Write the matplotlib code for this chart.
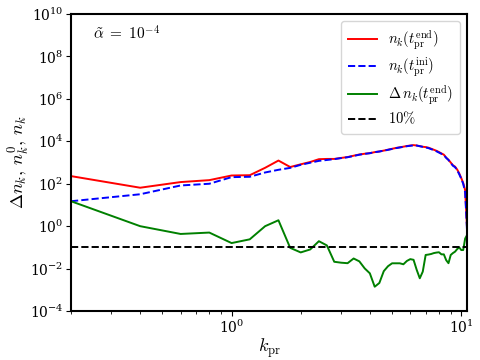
import matplotlib
matplotlib.use("Agg")
import matplotlib.pyplot as plt
import numpy as np

plt.rcParams['mathtext.fontset'] = 'cm'
plt.rcParams['font.family'] = 'serif'
plt.rcParams['font.serif'] = ['DejaVu Serif']

# momentum grid k_pr
k = [0.2, 0.4, 0.6, 0.8, 1.0, 1.2, 1.4, 1.6, 1.8, 2.0,
     2.2, 2.4, 2.6, 2.8, 3.0, 3.2, 3.4, 3.6, 3.8, 4.0,
     4.2, 4.4, 4.6, 4.8, 5.0, 5.2, 5.4, 5.6, 5.8, 6.0,
     6.2, 6.4, 6.6, 6.8, 7.0, 7.2, 7.4, 7.6, 7.8, 8.0,
     8.2, 8.4, 8.6, 8.8, 9.0, 9.2, 9.4, 9.6, 9.8, 10.0,
     10.2, 10.4, 10.6]

# n_k at t_pr^ini
n_ini = [15, 32, 83, 100, 205, 213, 340, 455, 560, 780,
         980, 1200, 1320, 1450, 1620, 1780, 2040, 2340, 2570, 2750,
         3090, 3310, 3630, 3980, 4370, 4790, 5130, 5500, 5890, 6170,
         6460, 6310, 5890, 5500, 5130, 4790, 4270, 3800, 3390, 2950,
         2570, 2240, 1660, 1320, 955, 708, 603, 437, 282, 174,
         100, 40, 0.6]

# n_k at t_pr^end
n_end = [229, 65, 120, 148, 245, 253, 565, 1240, 615, 825,
         1060, 1440, 1480, 1480, 1650, 1810, 2100, 2390, 2600, 2770,
         3095, 3320, 3660, 4030, 4450, 4870, 5220, 5590, 6020, 6340,
         6630, 6360, 5910, 5540, 5350, 5010, 4480, 4000, 3580, 3120,
         2690, 2350, 1700, 1340, 1000, 745, 640, 470, 310, 187,
         108, 50, 0.85]

# relative change Delta n_k
dn = [15, 1.0, 0.43, 0.5, 0.16, 0.24, 1.0, 1.9, 0.095, 0.058,
      0.080, 0.196, 0.124, 0.021, 0.019, 0.018, 0.030, 0.022, 0.0102, 0.006,
      0.0014, 0.0021, 0.0076, 0.013, 0.0178, 0.0178, 0.0178, 0.016, 0.023, 0.028,
      0.026, 0.0087, 0.0035, 0.0072, 0.044, 0.046, 0.049, 0.054, 0.057, 0.059,
      0.047, 0.047, 0.025, 0.018, 0.044, 0.054, 0.063, 0.083, 0.10, 0.075,
      0.075, 0.26, 0.38]

threshold = 0.1

fig = plt.figure(figsize=(4.8, 3.6), dpi=100)
ax = fig.add_axes([0.148, 0.136, 0.825, 0.825])

ax.plot(k, n_end, color='red', lw=1.4, label=r'$n_k(t_{\rm pr}^{\rm end})$')
ax.plot(k, n_ini, color='blue', lw=1.4, ls='--', label=r'$n_k(t_{\rm pr}^{\rm ini})$')
ax.plot(k, dn, color='green', lw=1.4, label=r'$\Delta\, n_k(t_{\rm pr}^{\rm end})$')
ax.axhline(threshold, color='black', lw=1.4, ls='--', label=r'$10\%$')

ax.set_xscale('log')
ax.set_yscale('log')
ax.set_xlim(0.2, 10.6)
ax.set_ylim(1e-4, 1e10)
ax.set_yticks([1e-4, 1e-2, 1e0, 1e2, 1e4, 1e6, 1e8, 1e10])
ax.yaxis.set_minor_locator(matplotlib.ticker.NullLocator())
ax.tick_params(labelsize=10, pad=2)
for s in ax.spines.values():
    s.set_linewidth(1.5)

ax.set_xlabel(r'$k_{\rm pr}$', fontsize=13, labelpad=0)
ax.set_ylabel(r'$\Delta n_k,\, n_k^0,\, n_k$', fontsize=13, labelpad=-2)

ax.text(0.055, 0.915, r'$\tilde{\alpha}\ =\ 10^{-4}$', transform=ax.transAxes, fontsize=11)

ax.legend(loc='upper right', fontsize=10.5, handlelength=2.0, labelspacing=0.25,
          borderpad=0.5, handletextpad=0.7)

fig.savefig('out.png', dpi=100)
